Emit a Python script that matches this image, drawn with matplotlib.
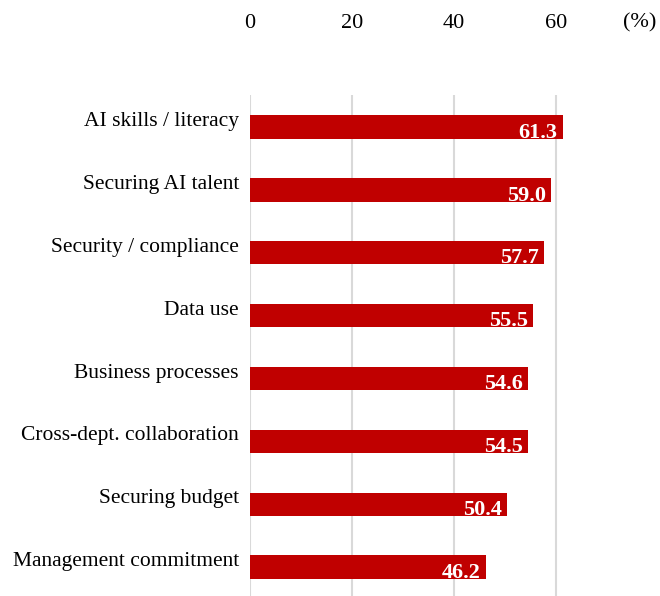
import numpy as np
import matplotlib.pyplot as plt
import matplotlib.transforms as mtransforms

# Données
categories = ["AI skills / literacy", "Securing AI talent", "Security / compliance",
              "Data use", "Business processes", "Cross-dept. collaboration",
              "Securing budget", "Management commitment"]
valeurs = [61.3, 59.0, 57.7, 55.5, 54.6, 54.5, 50.4, 46.2]
graduations = [0, 20, 40, 60]

plt.rcParams['font.family'] = ['Liberation Serif', 'DejaVu Serif']

fig = plt.figure(figsize=(6.6, 5.96), dpi=100)
ax = fig.add_axes([250 / 660, 0, 408 / 660, 501 / 596])

y = np.arange(len(categories))
ax.barh(y, valeurs, height=0.37, color='#C00000', zorder=2)

ax.set_xlim(0, 80)
ax.set_ylim(7.46, -0.51)

# Grille verticale
for g in graduations:
    ax.axvline(g, color='#D9D9D9', linewidth=1.5, zorder=1)

# Graduations en haut
ax.xaxis.tick_top()
ax.set_xticks(graduations)
ax.set_xticklabels([str(g) for g in graduations], fontsize=16)
ax.tick_params(axis='x', length=0, pad=45)
unite = ax.text(76.5, 1.0, "(%)", fontsize=16, ha='center', va='bottom')
unite.set_transform(ax.get_xaxis_transform() +
                    mtransforms.ScaledTranslation(0, 45 / 72, fig.dpi_scale_trans))

# Libellés des catégories
ax.set_yticks(y)
ax.set_yticklabels(categories, fontsize=15.5)
ax.tick_params(axis='y', length=0, pad=8)
decalage = mtransforms.ScaledTranslation(0, 8 / 100, fig.dpi_scale_trans)
for lab in ax.get_yticklabels():
    lab.set_transform(lab.get_transform() + decalage)

# Valeurs dans les barres
for i, v in enumerate(valeurs):
    ax.text(v - 1.0, i + 0.17, f"{v:.1f}", color='white', fontweight='bold',
            fontsize=16, ha='right', va='baseline', zorder=3)

for s in ax.spines.values():
    s.set_visible(False)

plt.savefig('out.png', dpi=100)
